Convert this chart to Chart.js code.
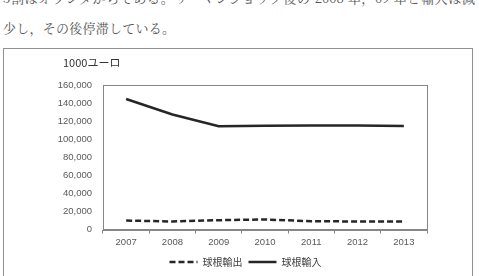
<!DOCTYPE html>
<html>
<head>
<meta charset="utf-8">
<script src="https://cdn.jsdelivr.net/npm/chart.js@4.4.1/dist/chart.umd.min.js"></script>
<style>
  html, body { margin: 0; padding: 0; background: #fff; }
  body { width: 479px; height: 276px; position: relative; overflow: hidden; }
  .para { position: absolute; left: 3px; top: -13px; width: 472px;
    font-family: "Noto Serif CJK JP", "Noto Sans CJK JP", serif; font-size: 13px;
    line-height: 27px; color: #555; }
  .para div { white-space: nowrap; }
  .l1 { position: relative; top: -3px; text-align: justify; text-align-last: justify; white-space: normal !important; }
  .l2 { letter-spacing: 0.25px; }
  .box { position: absolute; left: 3px; top: 48px; width: 470px; height: 260px;
    border: 1.5px solid #929292; box-sizing: border-box; }
  canvas { position: absolute; left: 0; top: 48px; }
</style>
</head>
<body>
<div class="para">
  <div class="l1">5割はオランダからである。リーマンショック後の 2008 年，09 年と輸入は減</div>
  <div class="l2">少し，その後停滞している。</div>
</div>
<div class="box"></div>
<canvas id="c" width="479" height="229"></canvas>
<script>
const years = ['2007', '2008', '2009', '2010', '2011', '2012', '2013'];
const bulbExport = [10000, 9000, 10400, 11200, 9300, 9000, 9000];
const bulbImport = [144500, 127300, 114300, 115000, 115300, 115300, 114500];
const seriesNames = ['球根輸出', '球根輸入'];
const unitLabel = '1000ユーロ';
const yTicks = { min: 0, max: 160000, step: 20000 };

const frame = {
  id: 'frame',
  afterDatasetsDraw(chart) {
    const a = chart.chartArea, ctx = chart.ctx;
    ctx.save();
    ctx.strokeStyle = '#868686';
    ctx.lineWidth = 1;
    ctx.strokeRect(Math.round(a.left) + 0.5, Math.round(a.top) + 0.5,
      Math.round(a.right - a.left), Math.round(a.bottom - a.top));
    ctx.fillStyle = '#333';
    ctx.font = '11px "Noto Sans CJK JP", sans-serif';
    ctx.textAlign = 'left';
    ctx.textBaseline = 'middle';
    ctx.fillText(unitLabel, a.left - 40, a.top - 22.5);
    ctx.restore();
  }
};

new Chart(document.getElementById('c'), {
  type: 'line',
  data: {
    labels: years,
    datasets: [
      { label: seriesNames[0], data: bulbExport, borderColor: '#262626', backgroundColor: '#262626',
        borderWidth: 2.5, borderDash: [6, 3], pointRadius: 0, tension: 0 },
      { label: seriesNames[1], data: bulbImport, borderColor: '#262626', backgroundColor: '#262626',
        borderWidth: 2.5, pointRadius: 0, tension: 0 }
    ]
  },
  options: {
    responsive: false,
    animation: false,
    devicePixelRatio: 1,
    layout: { padding: { left: 50, right: 38, top: 37, bottom: 0 } },
    plugins: {
      title: { display: false },
      legend: { position: 'bottom',
        labels: { usePointStyle: true, pointStyle: 'line', pointStyleWidth: 28, boxHeight: 10,
          padding: 6, color: '#404040',
          font: { family: '"Noto Sans CJK JP", sans-serif', size: 10 },
          generateLabels(chart) {
            const items = Chart.defaults.plugins.legend.labels.generateLabels(chart);
            items.forEach(it => {
              const ds = chart.data.datasets[it.datasetIndex];
              it.lineDash = ds.borderDash || [];
              it.lineWidth = 2.5;
              it.strokeStyle = ds.borderColor;
              it.fillStyle = ds.borderColor;
            });
            return items;
          } } },
      tooltip: { enabled: false }
    },
    scales: {
      x: {
        offset: true,
        grid: { offset: true, drawOnChartArea: false, drawTicks: true, tickLength: 4, color: '#868686' },
        border: { display: true, color: '#868686' },
        ticks: { color: '#595959', padding: 3, font: { family: '"Liberation Sans", Arial, sans-serif', size: 9.5 } }
      },
      y: {
        min: yTicks.min, max: yTicks.max,
        grid: { display: false },
        border: { display: true, color: '#868686' },
        afterFit(scale) { scale.width = 53; },
        ticks: { stepSize: yTicks.step, color: '#595959', padding: 3,
          font: { family: '"Liberation Sans", Arial, sans-serif', size: 9.5 },
          callback: v => v.toLocaleString('en-US') }
      },
      y2: {
        position: 'right', display: true,
        grid: { display: false, drawTicks: false },
        border: { display: false },
        ticks: { display: false },
        afterFit(scale) { scale.width = 14; }
      }
    }
  },
  plugins: [frame]
});
</script>
</body>
</html>
